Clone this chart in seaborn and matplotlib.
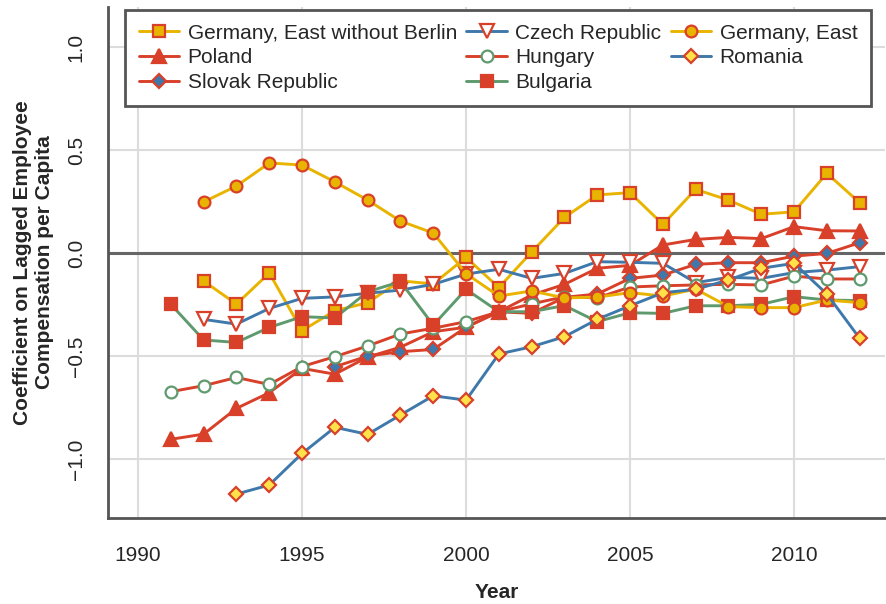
import matplotlib
matplotlib.use("Agg")
import matplotlib.pyplot as plt
import seaborn as sns
import pandas as pd

# --- data ---
years_gewb = list(range(1992, 2013))
gewb = [-0.136, -0.248, -0.097, -0.377, -0.28, -0.241, -0.135, -0.15, -0.021, -0.168, 0.005,
        0.173, 0.282, 0.293, 0.139, 0.309, 0.257, 0.188, 0.2, 0.387, 0.244]

years_cz = list(range(1992, 2013))
czech = [-0.322, -0.345, -0.269, -0.22, -0.213, -0.195, -0.18, -0.152, -0.102, -0.079, -0.123,
         -0.099, -0.042, -0.045, -0.05, -0.144, -0.118, -0.123, -0.095, -0.083, -0.066]

years_ge = list(range(1992, 2013))
germany_east = [0.248, 0.325, 0.437, 0.427, 0.345, 0.257, 0.155, 0.097, -0.1, -0.209, -0.184,
                -0.218, -0.214, -0.192, -0.209, -0.175, -0.26, -0.265, -0.265, -0.228, -0.241]

years_pl = list(range(1991, 2013))
poland = [-0.904, -0.879, -0.754, -0.678, -0.56, -0.588, -0.505, -0.457, -0.382, -0.36, -0.285,
          -0.204, -0.152, -0.074, -0.06, 0.039, 0.066, 0.076, 0.07, 0.128, 0.108, 0.107]

years_hu = list(range(1991, 2013))
hungary = [-0.673, -0.644, -0.604, -0.638, -0.551, -0.503, -0.451, -0.393, -0.365, -0.333, -0.285,
           -0.247, -0.212, -0.218, -0.165, -0.159, -0.155, -0.152, -0.155, -0.112, -0.126, -0.126]

years_ro = list(range(1993, 2013))
romania = [-1.17, -1.126, -0.973, -0.846, -0.88, -0.786, -0.693, -0.714, -0.49, -0.455,
           -0.406, -0.322, -0.256, -0.193, -0.176, -0.131, -0.074, -0.05, -0.199, -0.414]

years_sk = list(range(1996, 2013))
slovak = [-0.552, -0.5, -0.479, -0.468, -0.36, -0.285, -0.293, -0.215, -0.199, -0.123, -0.107,
          -0.055, -0.047, -0.047, -0.015, -0.002, 0.05]

years_bg = list(range(1991, 2013))
bulgaria = [-0.249, -0.422, -0.434, -0.361, -0.309, -0.315, -0.188, -0.139, -0.35, -0.176, -0.285,
            -0.285, -0.255, -0.333, -0.29, -0.293, -0.256, -0.256, -0.249, -0.212, -0.228, -0.231]

RED = "#D8402A"
YELLOW = "#E8B400"
LIGHT_YELLOW = "#FFE24A"
BLUE = "#3F78AA"
GREEN = "#5E9A6D"
DARK = "#555555"

# name, years, values, line colour, marker, face, edge, size
series = [
    ("Germany, East without Berlin", years_gewb, gewb, YELLOW, "s", YELLOW, RED, 8),
    ("Poland", years_pl, poland, RED, "^", RED, RED, 9.5),
    ("Slovak Republic", years_sk, slovak, RED, "D", BLUE, RED, 7.5),
    ("Czech Republic", years_cz, czech, BLUE, "v", "white", RED, 9.5),
    ("Hungary", years_hu, hungary, RED, "o", "white", GREEN, 8.5),
    ("Bulgaria", years_bg, bulgaria, GREEN, "s", RED, RED, 8.5),
    ("Germany, East", years_ge, germany_east, YELLOW, "o", YELLOW, RED, 8.5),
    ("Romania", years_ro, romania, BLUE, "D", LIGHT_YELLOW, RED, 7.5),
]

sns.set_style("white")
plt.rcParams["font.family"] = ["Liberation Sans", "DejaVu Sans"]
plt.rcParams["font.size"] = 15

fig = plt.figure(figsize=(8.87, 6.04), dpi=100)
ax = fig.add_axes([0.1218, 0.1424, 0.876, 0.846])

handles = []
for name, yrs, vals, lc, mk, fc, ec, ms in series:
    df = pd.DataFrame({"Year": yrs, "value": vals})
    sns.lineplot(data=df, x="Year", y="value", ax=ax, color=lc, linewidth=2.1,
                 marker=mk, markersize=ms, markerfacecolor=fc, markeredgecolor=ec,
                 markeredgewidth=1.6, label=name, zorder=3)
    handles.append(ax.lines[-1])

ax.set_xlim(1989.085, 2012.774)
ax.set_ylim(-1.286, 1.194)
ax.set_xticks([1990, 1995, 2000, 2005, 2010])
ax.set_yticks([-1.0, -0.5, 0.0, 0.5, 1.0])
ax.set_axisbelow(True)
ax.grid(True, color="#DCDCDC", linewidth=1.5)
ax.axhline(0, color="#666666", linewidth=2.2, zorder=2)

for s in ["top", "right"]:
    ax.spines[s].set_visible(False)
for s in ["left", "bottom"]:
    ax.spines[s].set_color(DARK)
    ax.spines[s].set_linewidth(2)

ax.tick_params(axis="both", length=5, width=1.5, color=DARK, labelsize=15)
ax.tick_params(axis="x", pad=15)
ax.tick_params(axis="y", pad=11)
plt.setp(ax.get_yticklabels(), rotation=90, va="center")

ax.set_xlabel("Year", fontweight="bold", fontsize=15, labelpad=13)
ax.set_ylabel("Coefficient on Lagged Employee\nCompensation per Capita",
              fontweight="bold", fontsize=15, labelpad=9.5)

leg = ax.legend(handles=handles, labels=[s[0] for s in series], ncol=3,
                loc="upper left", bbox_to_anchor=(0.022, 0.994), frameon=True,
                fancybox=False, edgecolor=DARK, framealpha=1, borderpad=0.65,
                labelspacing=0.28, handlelength=1.95, handletextpad=0.4,
                columnspacing=0.45, borderaxespad=0, fontsize=15)
leg.get_frame().set_linewidth(2)

fig.savefig("out.png", dpi=100)
